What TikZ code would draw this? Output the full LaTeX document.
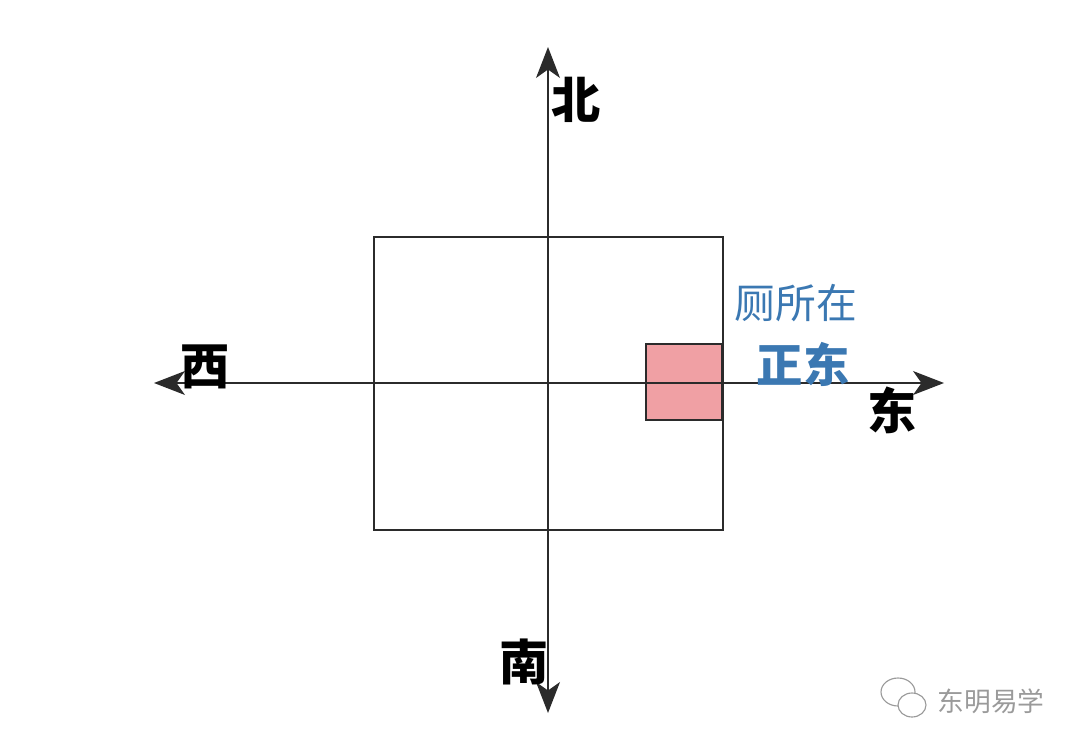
\documentclass[tikz,border=0pt]{standalone}
\usepackage{fontspec}
\usepackage{xcolor}
\usetikzlibrary{arrows.meta}
\newfontfamily\cjk{Noto Sans CJK SC}
\definecolor{axisgray}{HTML}{2B2B2B}
\definecolor{toiletpink}{HTML}{F0A0A4}
\definecolor{notblue}{HTML}{3B78B2}
\definecolor{markgray}{HTML}{9A9A9A}

\begin{document}
\begin{tikzpicture}[x=0.025cm,y=-0.025cm,
  dir/.style={font=\cjk\bfseries\fontsize{35}{35}\selectfont,inner sep=0pt},
  axis/.style={draw=axisgray,line width=1.2pt,
    {Stealth[length=22pt,width=17pt,inset=6pt]}-{Stealth[length=22pt,width=17pt,inset=6pt]}}]
  \useasboundingbox (0,0) rectangle (1080,750);
  \coordinate (n) at (548,47);
  \coordinate (s) at (548,713);
  \coordinate (w) at (154,383);
  \coordinate (e) at (944,383);
  % house and toilet
  \node (house) [draw=axisgray,line width=1.1pt,minimum width=349*0.025cm,minimum height=293*0.025cm,inner sep=0pt] at (548.5,383.5) {};
  \node (toilet) [draw=axisgray,fill=toiletpink,line width=1.1pt,minimum width=76*0.025cm,minimum height=76*0.025cm,inner sep=0pt] at (684,382) {};
  \draw[axis] (s) -- (n);
  \draw[axis] (w) -- (e);
  \node (north) [dir] at (576,100) {北};
  \node (west) [dir] at (205,367) {西};
  \node (east) [dir] at (892,410) {东};
  \node (south) [dir] at (524,662) {南};
  \node (where) [text=notblue,font=\cjk\fontsize{29}{29}\selectfont,inner sep=0pt] at (796,303) {厕所在};
  \node (due) [text=notblue,font=\cjk\bfseries\fontsize{33}{33}\selectfont,inner sep=0pt] at (803,364) {正东};
  % watermark
  \draw[markgray,line width=0.8pt] (898,692) ellipse (17 and 14);
  \draw[markgray,line width=0.8pt,fill=white] (912,705) ellipse (14 and 12);
  \node (mark) [text=markgray,font=\cjk\fontsize{19}{19}\selectfont,inner sep=0pt] at (991,701) {东明易学};
\end{tikzpicture}
\end{document}
